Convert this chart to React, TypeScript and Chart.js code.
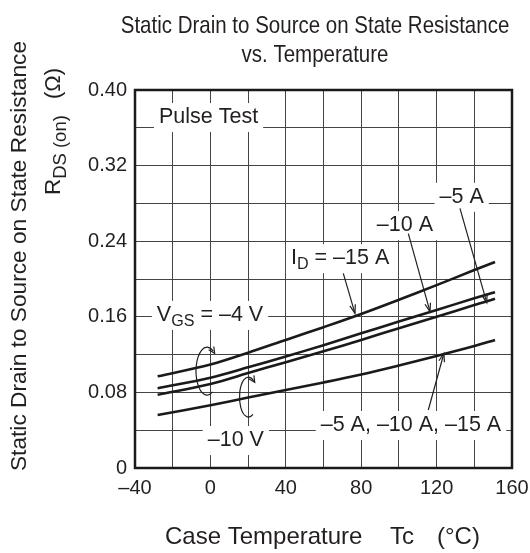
import { useEffect, useRef } from "react";
import { Chart, registerables } from "chart.js";

Chart.register(...registerables);

// ---------- data ----------
const temps = [-28, 0, 20, 40, 60, 80, 100, 120, 140, 151];
const rVgs4Id15 = [0.097, 0.1095, 0.122, 0.1355, 0.149, 0.163, 0.178, 0.1935, 0.2095, 0.218];
const rVgs4Id10 = [0.0843, 0.0955, 0.1065, 0.118, 0.13, 0.1425, 0.155, 0.1672, 0.1796, 0.186];
const rVgs4Id5 = [0.0775, 0.089, 0.1005, 0.112, 0.1235, 0.1355, 0.148, 0.16, 0.1725, 0.179];
const rVgs10 = [0.056, 0.0665, 0.0745, 0.0825, 0.0905, 0.099, 0.1085, 0.1185, 0.129, 0.1355];

const xTickLabels = ["–40", "", "0", "", "40", "", "80", "", "120", "", "160"];
const yTickLabels = ["0", "", "0.08", "", "0.16", "", "0.24", "", "0.32", "", "0.40"];

const titleLines = ["Static Drain to Source on State Resistance", "vs. Temperature"];
const yTitleMain = "Static Drain to Source on State Resistance";
const xTitleParts = ["Case Temperature", "Tc", "(°C)"];

type Part = [string, boolean];
// label text parts, and their centres in data units (°C, Ω)
const labelTexts: Part[][] = [
  [["Pulse Test", false]],
  [["V", false], ["GS", true], [" = –4 V", false]],
  [["I", false], ["D", true], [" = –15 A", false]],
  [["–10 A", false]],
  [["–5 A", false]],
  [["–5 A, –10 A, –15 A", false]],
  [["–10 V", false]],
];
const labelX = [-1, -0.2, 68.8, 103.2, 133.3, 106.4, 13.5];
const labelY = [0.3714, 0.162, 0.222, 0.257, 0.287, 0.0455, 0.0296];

// leader arrows: from (x1,y1) to (x2,y2) in data units, head at the end
const leaderX1 = [70.5, 105, 132.4, 115.6];
const leaderY1 = [0.206, 0.248, 0.2748, 0.0614];
const leaderX2 = [76.7, 116.5, 146.6, 123.9];
const leaderY2 = [0.1637, 0.1654, 0.175, 0.1214];

// rotation arrows (centres in data units)
const loopX = [-1.8, 20.2];
const loopY = [0.1026, 0.0751];

// ---------- drawing helpers ----------
const FONT = '"Liberation Sans", Arial, Helvetica, sans-serif';
const INK = "#231f20";
const LABEL_SIZE = 21.5;

function richWidth(ctx: CanvasRenderingContext2D, parts: Part[], size: number, subScale = 0.75) {
  let w = 0;
  for (const [t, sub] of parts) {
    ctx.font = `${sub ? size * subScale : size}px ${FONT}`;
    w += ctx.measureText(t).width;
  }
  return w;
}

function drawRich(
  ctx: CanvasRenderingContext2D,
  parts: Part[],
  x: number,
  y: number,
  size: number,
  subScale = 0.75
) {
  ctx.textBaseline = "middle";
  ctx.textAlign = "left";
  let cx = x;
  for (const [t, sub] of parts) {
    ctx.font = `${sub ? size * subScale : size}px ${FONT}`;
    ctx.fillText(t, cx, sub ? y + size * 0.3 : y);
    cx += ctx.measureText(t).width;
  }
}

function arrowHead(ctx: CanvasRenderingContext2D, x: number, y: number, ang: number, len = 9, spread = 0.32) {
  ctx.beginPath();
  ctx.moveTo(x - len * Math.cos(ang - spread), y - len * Math.sin(ang - spread));
  ctx.lineTo(x, y);
  ctx.lineTo(x - len * Math.cos(ang + spread), y - len * Math.sin(ang + spread));
  ctx.stroke();
}

const decorations = {
  id: "decorations",
  beforeDatasetsDraw(chart: any) {
    const { ctx } = chart;
    const xs = chart.scales.x;
    const ys = chart.scales.y;
    ctx.save();
    labelTexts.forEach((parts, i) => {
      const px = xs.getPixelForValue(labelX[i]);
      const py = ys.getPixelForValue(labelY[i]);
      const w = richWidth(ctx, parts, LABEL_SIZE);
      ctx.fillStyle = "#ffffff";
      ctx.fillRect(px - w / 2 - 5, py - 14, w + 10, 29);
      ctx.fillStyle = INK;
      drawRich(ctx, parts, px - w / 2, py, LABEL_SIZE);
    });
    ctx.restore();
  },
  afterDatasetsDraw(chart: any) {
    const { ctx } = chart;
    const xs = chart.scales.x;
    const ys = chart.scales.y;
    ctx.save();
    ctx.strokeStyle = INK;
    ctx.lineWidth = 1.2;
    leaderX1.forEach((_, i) => {
      const x1 = xs.getPixelForValue(leaderX1[i]);
      const y1 = ys.getPixelForValue(leaderY1[i]);
      const x2 = xs.getPixelForValue(leaderX2[i]);
      const y2 = ys.getPixelForValue(leaderY2[i]);
      ctx.beginPath();
      ctx.moveTo(x1, y1);
      ctx.lineTo(x2, y2);
      ctx.stroke();
      arrowHead(ctx, x2, y2, Math.atan2(y2 - y1, x2 - x1));
    });
    const radii = [
      [11, 24],
      [9, 20],
    ];
    loopX.forEach((_, i) => {
      const cx = xs.getPixelForValue(loopX[i]);
      const cy = ys.getPixelForValue(loopY[i]);
      const [rx, ry] = radii[i];
      const a0 = (60 * Math.PI) / 180;
      const a1 = (305 * Math.PI) / 180;
      ctx.beginPath();
      ctx.ellipse(cx, cy, rx, ry, 0, a0, a1, false);
      ctx.stroke();
      const ex = cx + rx * Math.cos(a1);
      const ey = cy + ry * Math.sin(a1);
      const tx = -rx * Math.sin(a1);
      const ty = ry * Math.cos(a1);
      arrowHead(ctx, ex + tx * 0.15, ey + ty * 0.15, Math.atan2(ty, tx), 7, 0.45);
    });
    ctx.restore();
  },
  afterDraw(chart: any) {
    const { ctx, chartArea: a } = chart;
    ctx.save();
    // frame
    ctx.strokeStyle = "#1a1a1a";
    ctx.lineWidth = 2.5;
    ctx.strokeRect(a.left, a.top, a.right - a.left, a.bottom - a.top);
    ctx.fillStyle = INK;
    // title (slightly tall lettering, as in the reference)
    ctx.font = `20.5px ${FONT}`;
    ctx.textAlign = "center";
    ctx.textBaseline = "alphabetic";
    ctx.save();
    ctx.translate(315, 33);
    ctx.scale(1, 1.15);
    ctx.fillText(titleLines[0], 0, 0);
    ctx.restore();
    ctx.save();
    ctx.translate(315, 62);
    ctx.scale(1, 1.15);
    ctx.fillText(titleLines[1], 0, 0);
    ctx.restore();
    // x title
    ctx.font = `24px ${FONT}`;
    ctx.textAlign = "left";
    ctx.fillText(xTitleParts[0], 165, 544);
    ctx.fillText(xTitleParts[1], 390, 544);
    ctx.fillText(xTitleParts[2], 437, 544);
    // y title line 1
    ctx.save();
    ctx.translate(20, 256);
    ctx.rotate(-Math.PI / 2);
    ctx.font = `22.7px ${FONT}`;
    ctx.textAlign = "center";
    ctx.textBaseline = "middle";
    ctx.fillText(yTitleMain, 0, 0);
    ctx.restore();
    // y title line 2: R_DS(on)  (Ω)
    ctx.save();
    ctx.translate(54, 195);
    ctx.rotate(-Math.PI / 2);
    drawRich(ctx, [["R", false], ["DS", true], [" (on)", true]], 0, 0, 22.5, 0.82);
    ctx.font = `22px ${FONT}`;
    ctx.fillText("(Ω)", 96, 0);
    ctx.restore();
    ctx.restore();
  },
};

function series(vals: number[]) {
  return temps.map((t, i) => ({ x: t, y: vals[i] }));
}

export default function App() {
  const ref = useRef<HTMLCanvasElement | null>(null);
  useEffect(() => {
    if (!ref.current) return;
    const common = {
      borderColor: "#1a1a1a",
      borderWidth: 2.6,
      pointRadius: 0,
      fill: false,
      tension: 0.35,
    };
    const chart = new Chart(ref.current, {
      type: "line",
      data: {
        datasets: [
          { label: "VGS=-4V ID=-15A", data: series(rVgs4Id15), ...common },
          { label: "VGS=-4V ID=-10A", data: series(rVgs4Id10), ...common },
          { label: "VGS=-4V ID=-5A", data: series(rVgs4Id5), ...common },
          { label: "VGS=-10V", data: series(rVgs10), ...common },
        ],
      },
      options: {
        responsive: false,
        animation: false,
        events: [],
        layout: { padding: { top: 90, right: 18, left: 0, bottom: 0 } },
        plugins: { legend: { display: false }, title: { display: false }, tooltip: { enabled: false } },
        scales: {
          x: {
            type: "linear",
            min: -40,
            max: 160,
            afterFit: (s: any) => {
              s.height = 85;
              s.paddingLeft = 0;
              s.paddingRight = 0;
            },
            ticks: {
              stepSize: 20,
              autoSkip: false,
              maxRotation: 0,
              padding: 8,
              color: INK,
              font: { family: FONT, size: 20 },
              callback: (_v: any, i: number) => xTickLabels[i],
            },
            grid: { color: "#444", lineWidth: 1, drawTicks: false },
            border: { display: false },
          },
          y: {
            type: "linear",
            min: 0,
            max: 0.4,
            afterFit: (s: any) => {
              s.width = 135;
              s.paddingTop = 0;
              s.paddingBottom = 0;
            },
            ticks: {
              stepSize: 0.04,
              autoSkip: false,
              padding: 8,
              color: INK,
              font: { family: FONT, size: 20 },
              callback: (_v: any, i: number) => yTickLabels[i],
            },
            grid: { color: "#444", lineWidth: 1, drawTicks: false },
            border: { display: false },
          },
        },
      },
      plugins: [decorations],
    });
    return () => chart.destroy();
  }, []);
  return (
    <div style={{ position: "absolute", left: 0, top: 0, width: 530, height: 553, background: "#fff" }}>
      <canvas ref={ref} width={530} height={553} style={{ display: "block" }} />
    </div>
  );
}
